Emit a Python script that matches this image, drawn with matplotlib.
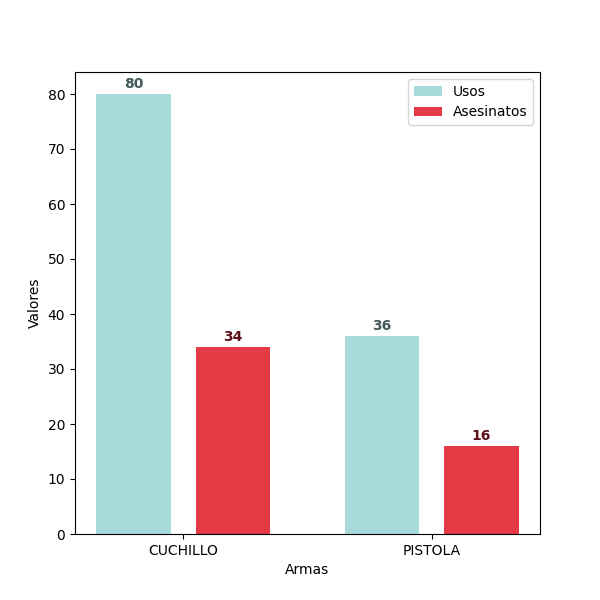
import numpy as np
import matplotlib
matplotlib.use("Agg")
import matplotlib.pyplot as plt

armas = ["CUCHILLO", "PISTOLA"]
usos = [80, 36]
asesinatos = [34, 16]

x = np.arange(len(armas))
width = 0.3

fig, ax = plt.subplots(figsize=(6, 6), dpi=100)
b1 = ax.bar(x - 0.2, usos, width, color="#a8dadc", label="Usos")
b2 = ax.bar(x + 0.2, asesinatos, width, color="#e63946", label="Asesinatos")

for rect, v in zip(b1, usos):
    ax.text(rect.get_x() + rect.get_width() / 2, v + 0.5, str(v),
            ha="center", va="bottom", fontweight="bold", color="#455a5a")
for rect, v in zip(b2, asesinatos):
    ax.text(rect.get_x() + rect.get_width() / 2, v + 0.5, str(v),
            ha="center", va="bottom", fontweight="bold", color="#5c1118")

ax.set_xticks(x)
ax.set_xticklabels(armas)
ax.set_xlabel("Armas")
ax.set_ylabel("Valores")
ax.legend(loc="upper right")

plt.savefig("out.png", dpi=100)
